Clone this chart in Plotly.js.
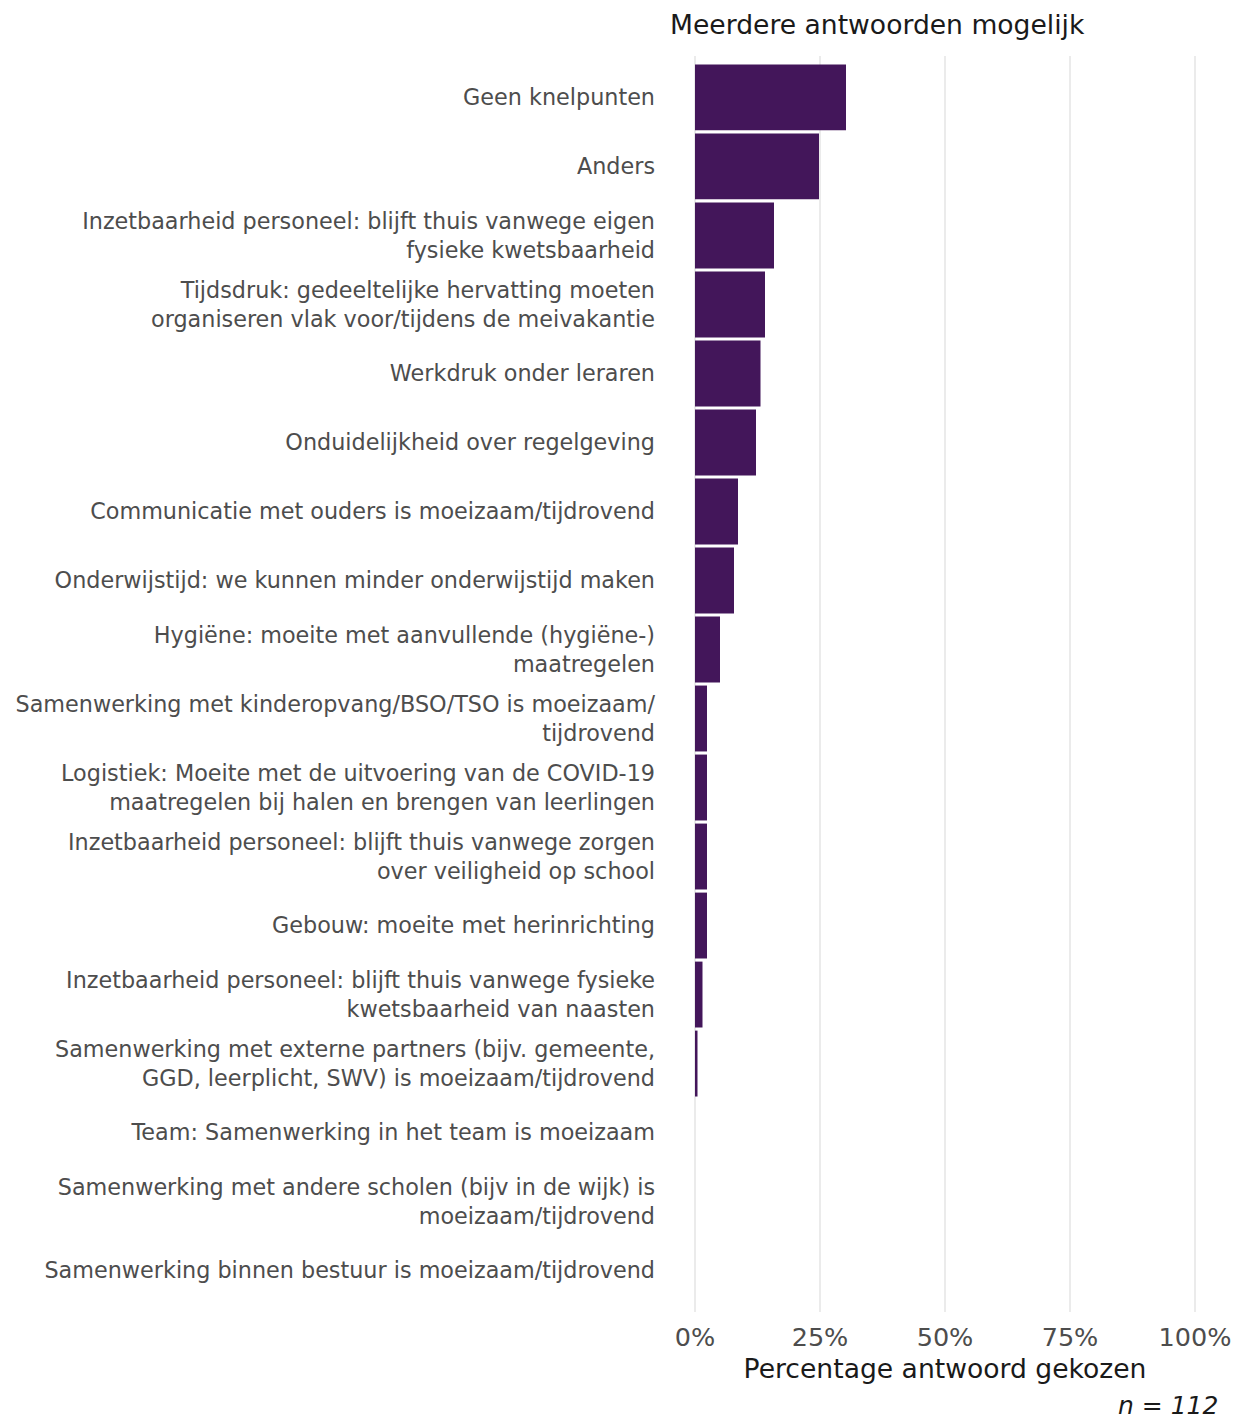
<!DOCTYPE html>
<html>
<head>
<meta charset="utf-8">
<script src="https://cdn.plot.ly/plotly-3.0.1.min.js"></script>
<style>
  html, body { margin: 0; padding: 0; background: #ffffff; }
  #chart { width: 1236px; height: 1420px; }
</style>
</head>
<body>
<div id="chart"></div>
<script>
// Categories (top to bottom)
const categories = [
  "Geen knelpunten",
  "Anders",
  "Inzetbaarheid personeel: blijft thuis vanwege eigen<br>fysieke kwetsbaarheid",
  "Tijdsdruk: gedeeltelijke hervatting moeten<br>organiseren vlak voor/tijdens de meivakantie",
  "Werkdruk onder leraren",
  "Onduidelijkheid over regelgeving",
  "Communicatie met ouders is moeizaam/tijdrovend",
  "Onderwijstijd: we kunnen minder onderwijstijd maken",
  "Hygiëne: moeite met aanvullende (hygiëne-)<br>maatregelen",
  "Samenwerking met kinderopvang/BSO/TSO is moeizaam/<br>tijdrovend",
  "Logistiek: Moeite met de uitvoering van de COVID-19<br>maatregelen bij halen en brengen van leerlingen",
  "Inzetbaarheid personeel: blijft thuis vanwege zorgen<br>over veiligheid op school",
  "Gebouw: moeite met herinrichting",
  "Inzetbaarheid personeel: blijft thuis vanwege fysieke<br>kwetsbaarheid van naasten",
  "Samenwerking met externe partners (bijv. gemeente,<br>GGD, leerplicht, SWV) is moeizaam/tijdrovend",
  "Team: Samenwerking in het team is moeizaam",
  "Samenwerking met andere scholen (bijv in de wijk) is<br>moeizaam/tijdrovend",
  "Samenwerking binnen bestuur is moeizaam/tijdrovend"
];

// Percentage chosen (%)
const percentages = [30.2, 24.8, 15.8, 14.0, 13.1, 12.2, 8.6, 7.8, 5.0, 2.4, 2.4, 2.4, 2.4, 1.5, 0.5, 0, 0, 0];

// Axis ticks
const tickValues = [0, 25, 50, 75, 100];
const tickLabels = ["0%", "25%", "50%", "75%", "100%"];

const titleText = "Meerdere antwoorden mogelijk";
const xTitleText = "Percentage antwoord gekozen";
const captionText = "n = 112";

const FONT = "DejaVu Sans, Verdana, sans-serif";

const trace = {
  type: "bar",
  orientation: "h",
  y: categories,
  x: percentages,
  marker: { color: "#43165a", line: { width: 0 } },
  hoverinfo: "x+y"
};

const layout = {
  width: 1236,
  height: 1420,
  margin: { l: 670, r: 16, t: 56, b: 108, pad: 0 },
  paper_bgcolor: "#ffffff",
  plot_bgcolor: "#ffffff",
  showlegend: false,
  bargap: 0.045,
  font: { family: FONT, color: "#4d4d4d" },
  title: {
    text: titleText,
    font: { family: FONT, size: 26.6, color: "#1a1a1a" },
    xref: "paper", x: 0, xanchor: "left",
    yref: "container", y: 1 - 25 / 1420, yanchor: "middle"
  },
  xaxis: {
    range: [-5, 105],
    tickvals: tickValues,
    ticktext: tickLabels,
    showgrid: true,
    gridcolor: "#ebebeb",
    gridwidth: 2,
    zeroline: false,
    showline: false,
    ticks: "",
    ticklabelstandoff: 7,
    tickfont: { family: FONT, size: 25.5, color: "#4d4d4d" },
    title: {
      text: xTitleText,
      font: { family: FONT, size: 26.6, color: "#1a1a1a" },
      standoff: 8
    },
    fixedrange: true
  },
  yaxis: {
    type: "category",
    categoryorder: "array",
    categoryarray: categories,
    range: [categories.length - 0.4, -0.6],
    showgrid: false,
    zeroline: false,
    showline: false,
    ticks: "",
    ticklabelstandoff: 14,
    tickfont: { family: FONT, size: 22.3, color: "#4d4d4d" },
    fixedrange: true
  },
  annotations: [
    {
      text: "<i>" + captionText + "</i>",
      xref: "paper", x: 1, xanchor: "right",
      yref: "paper", y: -93 / 1256, yanchor: "middle",
      showarrow: false,
      font: { family: FONT, size: 25, color: "#1a1a1a" }
    }
  ]
};

Plotly.newPlot("chart", [trace], layout, { displayModeBar: false, staticPlot: true });
</script>
</body>
</html>
